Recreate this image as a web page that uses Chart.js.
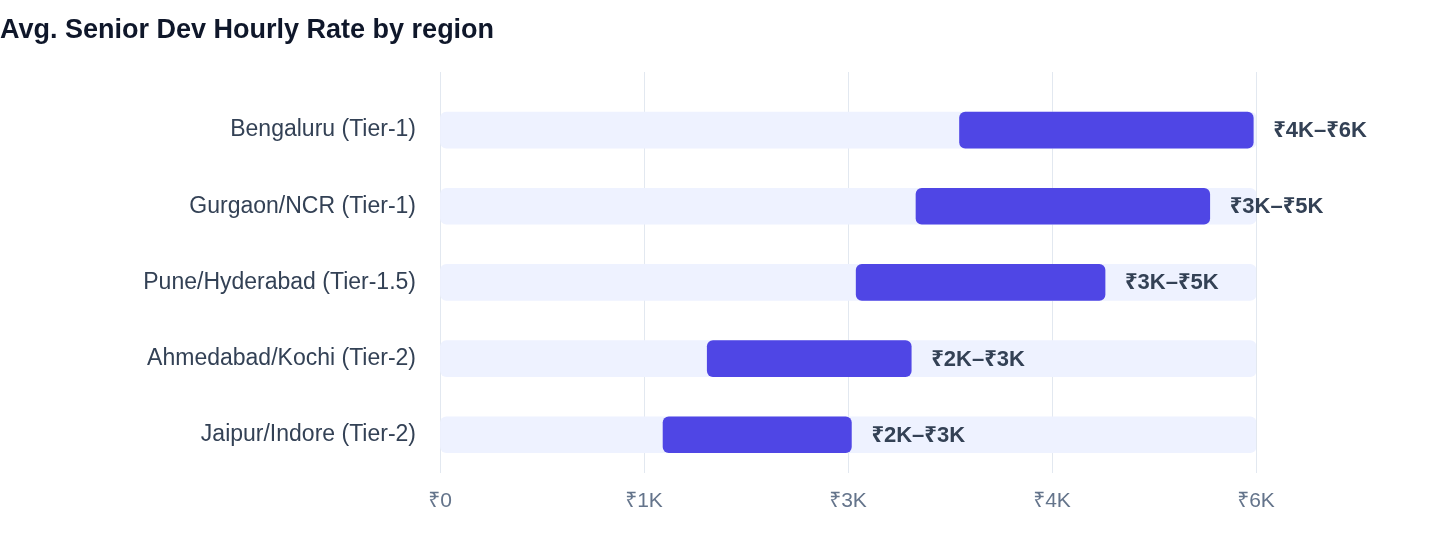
<!DOCTYPE html>
<html>
<head>
<meta charset="utf-8">
<script src="https://cdn.jsdelivr.net/npm/chart.js@4.4.1/dist/chart.umd.min.js"></script>
<style>
  html, body { margin: 0; padding: 0; background: #ffffff; }
  #wrap { width: 1440px; height: 560px; position: relative; }
</style>
</head>
<body>
<div id="wrap"><canvas id="rateChart"></canvas></div>
<script>
const regions = [
    'Bengaluru (Tier-1)',
    'Gurgaon/NCR (Tier-1)',
    'Pune/Hyderabad (Tier-1.5)',
    'Ahmedabad/Kochi (Tier-2)',
    'Jaipur/Indore (Tier-2)'
];
const rateLow = [3820, 3500, 3060, 1965, 1640];
const rateHigh = [5980, 5660, 4890, 3465, 3025];
const rangeLabels = ['₹4K–₹6K', '₹3K–₹5K', '₹3K–₹5K', '₹2K–₹3K', '₹2K–₹3K'];
const trackMax = [6000, 6000, 6000, 6000, 6000];
const xTickLabels = ['₹0', '₹1K', '₹3K', '₹4K', '₹6K'];

const FONT = '"Liberation Sans", "Helvetica Neue", Arial, "Noto Sans", sans-serif';

// grid lines reach a little above the plot area in the original
const gridExtend = {
    id: 'gridExtend',
    beforeDatasetsDraw(chart) {
        const { ctx, chartArea, scales } = chart;
        ctx.save();
        ctx.strokeStyle = '#e2e8f0';
        ctx.lineWidth = 1;
        scales.x.ticks.forEach(t => {
            const x = Math.round(scales.x.getPixelForValue(t.value)) + 0.5;
            ctx.beginPath();
            ctx.moveTo(x, chartArea.top - 20);
            ctx.lineTo(x, chartArea.top);
            ctx.stroke();
        });
        ctx.restore();
    }
};

const rangeText = {
    id: 'rangeText',
    afterDatasetsDraw(chart) {
        const { ctx } = chart;
        const meta = chart.getDatasetMeta(0);
        ctx.save();
        ctx.font = 'bold 22px ' + FONT;
        ctx.fillStyle = '#334155';
        ctx.textAlign = 'left';
        ctx.textBaseline = 'middle';
        meta.data.forEach((bar, i) => {
            ctx.fillText(rangeLabels[i], bar.x + 20, bar.y + 1);
        });
        ctx.restore();
    }
};

const ctx = document.getElementById('rateChart').getContext('2d');
const rateChart = new Chart(ctx, {
    type: 'bar',
    data: {
        labels: regions,
        datasets: [{
            label: 'Hourly rate',
            data: regions.map((r, i) => [rateLow[i], rateHigh[i]]),
            backgroundColor: '#4f46e5',
            borderRadius: 6,
            borderSkipped: false,
            barThickness: 36,
            grouped: false,
            order: 0
        }, {
            label: 'Track',
            data: trackMax,
            backgroundColor: '#eef2ff',
            borderRadius: 6,
            borderSkipped: false,
            barThickness: 36,
            grouped: false,
            order: 1
        }]
    },
    options: {
        indexAxis: 'y',
        responsive: true,
        maintainAspectRatio: false,
        animation: false,
        layout: {
            padding: { left: 0, right: 184, top: 0, bottom: 30 }
        },
        plugins: {
            legend: { display: false },
            tooltip: { enabled: false },
            title: {
                display: true,
                text: 'Avg. Senior Dev Hourly Rate by region',
                align: 'start',
                color: '#0f172a',
                font: { family: FONT, size: 27, weight: 'bold', lineHeight: 1.2 },
                padding: { top: 14, bottom: 45.6 }
            }
        },
        scales: {
            x: {
                min: 0,
                max: 6000,
                border: { display: false },
                grid: { color: '#e2e8f0', drawTicks: false },
                ticks: {
                    stepSize: 1500,
                    padding: 16,
                    color: '#64748b',
                    font: { family: FONT, size: 21 },
                    callback: (v, i) => xTickLabels[i]
                }
            },
            y: {
                border: { display: false },
                grid: { display: false, drawTicks: false },
                afterFit(scale) { scale.width = 440; },
                ticks: {
                    padding: 24,
                    color: '#334155',
                    font: { family: FONT, size: 23 }
                }
            }
        }
    },
    plugins: [gridExtend, rangeText]
});
</script>
</body>
</html>
